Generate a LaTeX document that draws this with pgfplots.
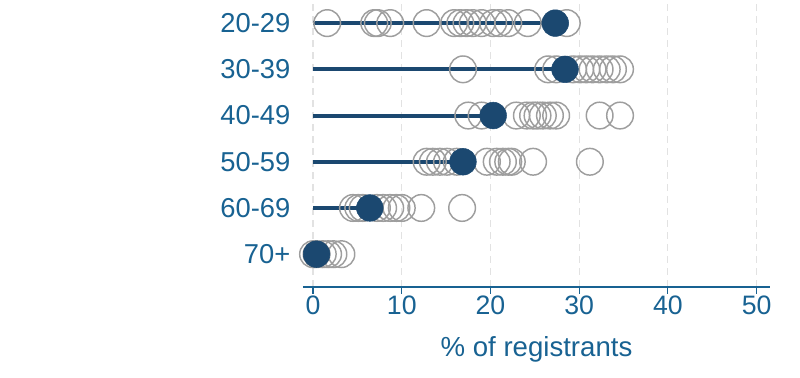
\documentclass[border=0pt]{standalone}
\usepackage{pgfplots}
\pgfplotsset{compat=1.18}
\usepackage{fontspec}
\setmainfont{Liberation Sans}
\definecolor{txtblue}{RGB}{24,98,146}
\definecolor{navy}{RGB}{27,72,112}
\definecolor{ringgray}{RGB}{158,158,158}
\definecolor{gridgray}{RGB}{226,226,226}
\pgfplotstableread{
x y
1.6 5
6.9 5
7.3 5
8.7 5
12.8 5
15.9 5
16.6 5
17.3 5
18.0 5
19.0 5
20.3 5
21.0 5
22.0 5
24.2 5
28.6 5
16.9 4
26.5 4
27.4 4
29.3 4
30.1 4
30.8 4
31.5 4
32.3 4
33.1 4
33.8 4
34.6 4
17.5 3
19.0 3
22.9 3
24.1 3
24.8 3
25.3 3
25.9 3
26.7 3
27.4 3
32.3 3
34.6 3
12.8 2
13.5 2
14.3 2
15.1 2
16.2 2
19.6 2
20.7 2
21.4 2
22.0 2
22.4 2
24.8 2
31.2 2
4.5 1
5.1 1
5.6 1
7.2 1
7.9 1
8.7 1
9.4 1
10.0 1
12.2 1
16.8 1
0.0 0
0.4 0
1.1 0
1.7 0
2.3 0
3.2 0
}\countries
\pgfplotstableread{
x y
27.3 5
28.4 4
20.3 3
16.9 2
6.4 1
0.4 0
}\overall
\begin{document}
\begin{tikzpicture}
\path[use as bounding box] (-227.25pt,-68.25pt) rectangle (372.75pt,215.25pt);
\begin{axis}[
  at={(0,0)}, anchor=south west,
  scale only axis, width=350.25pt, height=215.25pt,
  xmin=-1.13, xmax=51.5, ymin=-0.71, ymax=5.5,
  axis lines=left,
  x axis line style={-, txtblue, line width=0.9pt},
  y axis line style={draw=none},
  xtick={0,10,20,30,40,50},
  ytick={0,1,2,3,4,5},
  yticklabels={70+,60-69,50-59,40-49,30-39,20-29},
  ytick style={draw=none},
  xtick style={txtblue, line width=0.8pt},
  tick align=outside, major tick length=5pt,
  xmajorgrids, grid style={dash pattern=on 5pt off 4pt, gridgray, line width=0.8pt},
  /pgf/number format/assume math mode=true,
  ticklabel style={text=txtblue},
  x tick label style={font=\fontsize{20}{22}\selectfont, yshift=2pt},
  y tick label style={font=\fontsize{20.5}{22}\selectfont, xshift=-1pt},
  xlabel={\% of registrants},
  xlabel style={font=\fontsize{20.7}{22}\selectfont, text=txtblue, at={(axis description cs:0.5,-0.218)}, anchor=center},
  clip=false,
]
\addplot[only marks, mark=*, mark size=10pt, draw=ringgray, fill=white, fill opacity=0, line width=1.1pt] table[x=x,y=y] {\countries};
\addplot[xcomb, navy, line width=3pt] table[x=x,y=y] {\overall};
\addplot[only marks, mark=*, mark size=10pt, draw=navy, fill=navy] table[x=x,y=y] {\overall};
\end{axis}
\end{tikzpicture}
\end{document}
